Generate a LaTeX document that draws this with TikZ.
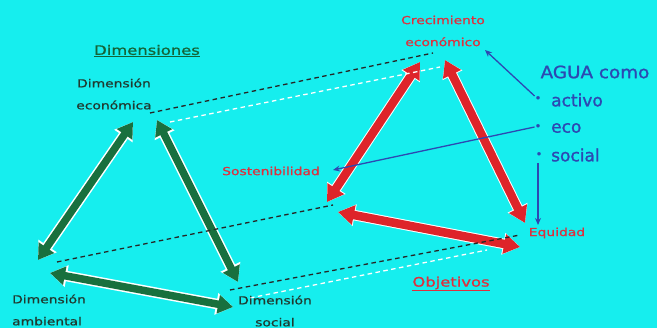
\documentclass[tikz,border=0pt]{standalone}
\usepackage{fontspec}
\usepackage{graphicx}
\usetikzlibrary{arrows.meta}
\newfontfamily\lblfont[FakeStretch=1.26,FakeBold=0.9]{DejaVu Sans}
\newfontfamily\blufont[FakeBold=1.2]{DejaVu Sans}
\definecolor{bgc}{RGB}{22,238,238}
\definecolor{gar}{RGB}{24,112,62}
\definecolor{gtx}{RGB}{32,58,48}
\definecolor{gtitle}{RGB}{20,100,55}
\definecolor{rar}{RGB}{222,36,42}
\definecolor{rtx}{RGB}{222,48,62}
\definecolor{btx}{RGB}{45,72,178}
\begin{document}
\begin{tikzpicture}[x=1pt,y=-1pt,
  halo/.style={draw=white, line width=10.5pt, {Triangle[width=21pt,length=17pt]}-{Triangle[width=21pt,length=17pt]}},
  greenarrow/.style={draw=gar, line width=7.5pt, {Triangle[width=18pt,length=15pt]}-{Triangle[width=18pt,length=15pt]}},
  redarrow/.style={draw=rar, line width=8.5pt, {Triangle[width=19pt,length=16pt]}-{Triangle[width=19pt,length=16pt]}},
  blackdash/.style={draw=black!85, line width=1.3pt, dash pattern=on 4.5pt off 3.5pt},
  whitedash/.style={draw=white, line width=1.3pt, dash pattern=on 4.5pt off 3.5pt},
  bluearrow/.style={draw=btx, line width=1.3pt, -{Stealth[width=6pt,length=7pt]}},
  lbl/.style={font=\lblfont\fontsize{11}{22}\selectfont, inner sep=0pt},
  ttl/.style={font=\lblfont\fontsize{13}{16}\selectfont, inner sep=0pt},
  blu/.style={font=\blufont\fontsize{17}{20}\selectfont, text=btx, inner sep=0pt},
  bul/.style={font=\blufont\fontsize{11}{12}\selectfont, text=btx, inner sep=0pt}
]
\clip (0,0) rectangle (657,328);
\fill[bgc] (0,0) rectangle (657,328);

% vertices of the arrows
\coordinate (gT1) at (133,122);
\coordinate (gL1) at (38,260);
\coordinate (gT2) at (157,120);
\coordinate (gR1) at (238,282);
\coordinate (gL2) at (50,273);
\coordinate (gR2) at (233,307);
\coordinate (rT1) at (420,62);
\coordinate (rL1) at (327,202);
\coordinate (rT2) at (445,60);
\coordinate (rR1) at (525,223);
\coordinate (rL2) at (338,212);
\coordinate (rR2) at (520,247);

% dashed line ends
\coordinate (dTa) at (150,113);
\coordinate (dTb) at (433,53);
\coordinate (wTa) at (170,122);
\coordinate (wTb) at (440,67);
\coordinate (dMa) at (57,262);
\coordinate (dMb) at (333,205);
\coordinate (dBa) at (230,290);
\coordinate (dBb) at (520,235);
\coordinate (wBa) at (250,298);
\coordinate (wBb) at (487,250);

% halos
\foreach \a/\b in {gT1/gL1,gT2/gR1,gL2/gR2,rT1/rL1,rT2/rR1,rL2/rR2}
  \draw[halo] (\a) -- (\b);
% arrows
\draw[greenarrow] (gT1) -- (gL1);
\draw[greenarrow] (gT2) -- (gR1);
\draw[greenarrow] (gL2) -- (gR2);
\draw[redarrow] (rT1) -- (rL1);
\draw[redarrow] (rT2) -- (rR1);
\draw[redarrow] (rL2) -- (rR2);

% dashed lines
\draw[whitedash] (wTa) -- (wTb);
\draw[whitedash] (wBa) -- (wBb);
\draw[blackdash] (dTa) -- (dTb);
\draw[blackdash] (dMa) -- (dMb);
\draw[blackdash] (dBa) -- (dBb);

% texts
\node[ttl, text=gtitle] (dims) at (147,51) {\underline{Dimensiones}};
\node[lbl, text=gtx, align=center] (decon) at (114,94) {Dimensión\\económica};
\node[lbl, text=gtx, align=left, anchor=west] (damb) at (12,310) {Dimensión\\ambiental};
\node[lbl, text=gtx, align=center] (dsoc) at (275,311) {Dimensión\\social};
\node[lbl, text=rtx, align=center] (crec) at (443,31) {Crecimiento\\económico};
\node[lbl, text=rtx] (sost) at (271,171) {Sostenibilidad};
\node[lbl, text=rtx] (equi) at (557,233) {Equidad};
\node[ttl, text=rtx] (obj) at (451,284) {\underline{Objetivos}};
\node[blu] (agua) at (595,72) {\scalebox{1.08}[1]{AGUA como}};
\node[bul] (b1) at (538,99) {•};
\node[bul] (b2) at (538,127) {•};
\node[bul] (b3) at (539,155) {•};
\node[blu, anchor=west] (activo) at (551,100) {activo};
\node[blu, anchor=west] (eco) at (551,128) {eco};
\node[blu, anchor=west] (social) at (551,155) {social};

% blue arrows
\coordinate (t1) at (485,50);
\coordinate (t2) at (333,170);
\coordinate (t3) at (538,225);
\coordinate (s3) at (538,163);
\draw[bluearrow] (b1.north west) -- (t1);
\draw[bluearrow] (b2.west) -- (t2);
\draw[bluearrow] (s3) -- (t3);
\end{tikzpicture}
\end{document}
